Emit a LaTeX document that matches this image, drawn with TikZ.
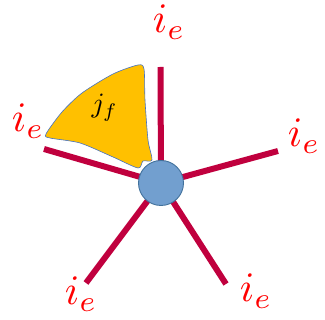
\documentclass[tikz,border=0pt]{standalone}
\usepackage{xcolor}
\usepackage{tikz}
\usetikzlibrary{positioning}

\definecolor{spokered}{RGB}{192,0,62}
\definecolor{hubblue}{RGB}{114,159,207}
\definecolor{hubline}{RGB}{65,113,156}
\definecolor{blobfill}{RGB}{255,192,0}
\definecolor{blobline}{RGB}{68,114,196}

\begin{document}
\begin{tikzpicture}[
    x=1pt, y=-1pt,
    spoke/.style={draw=spokered, line width=6pt},
    hub/.style={circle, draw=hubline, fill=hubblue, line width=0.9pt, minimum size=45pt, inner sep=0pt},
    lbl/.style={text=red, inner sep=0pt, anchor=base west, scale=4.2},
    jlbl/.style={inner sep=0pt, anchor=base west, scale=2.8},
]
    \useasboundingbox (0,0) rectangle (325,320);

    % yellow region
    \draw[blobline, fill=blobfill, line width=0.6pt] plot[smooth cycle, tension=0.45] coordinates {
        (46,134) (62,112) (82,93) (113,74) (138,65) (144,69) (145,100)
        (148,140) (152,160) (143,161) (138,168) (113,157) (80,143) (50,138)};

    \coordinate (o) at (161,183);
    \coordinate (top) at (160.5,67);
    \coordinate (left) at (44,149);
    \coordinate (right) at (278,151);
    \coordinate (bl) at (86,283);
    \coordinate (br) at (226,284);

    \draw[spoke] (o) -- (top);
    \draw[spoke] (o) -- (left);
    \draw[spoke] (o) -- (right);
    \draw[spoke] (o) -- (bl);
    \draw[spoke] (o) -- (br);

    \node[hub] (hub) at (o) {};

    \node[lbl] (ltop) at (152,33) {$i_e$};
    \node[lbl] (lleft) at (11,132) {$i_e$};
    \node[lbl] (lright) at (287,147) {$i_e$};
    \node[lbl] (lbotl) at (64,305) {$i_e$};
    \node[lbl] (lbotr) at (239,302) {$i_e$};

    \node[jlbl] (jf) at (91,113) {$j_f$};
\end{tikzpicture}
\end{document}
